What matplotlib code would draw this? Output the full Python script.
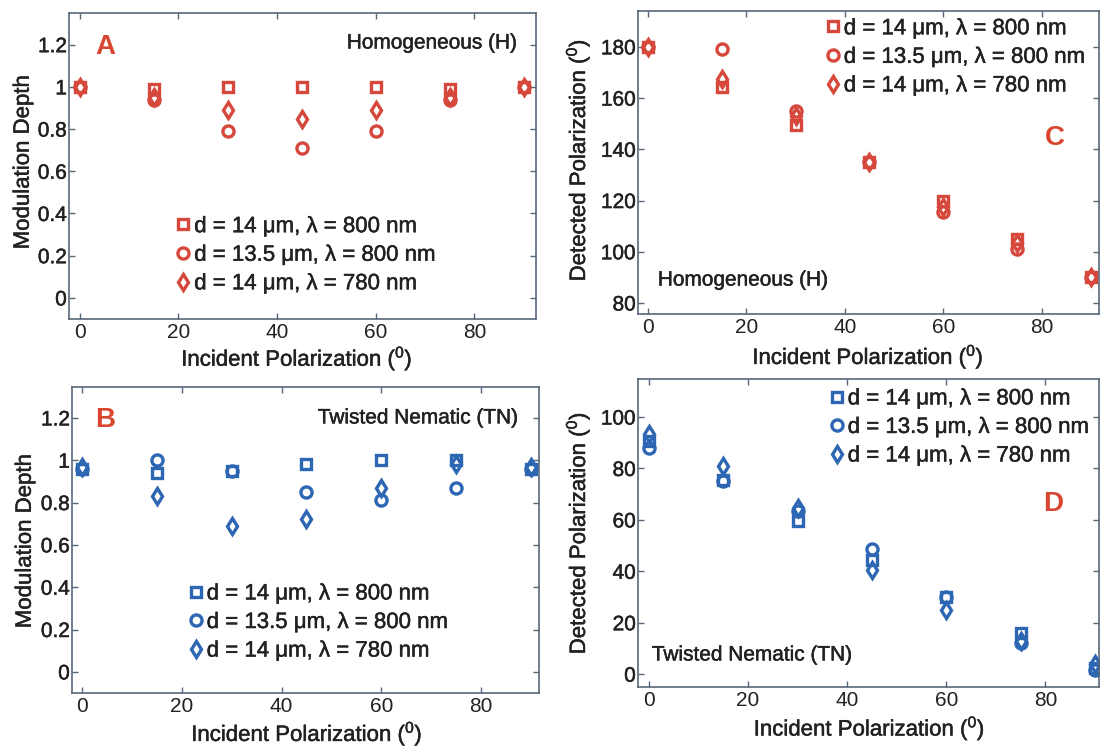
import matplotlib
matplotlib.use("Agg")
import matplotlib.pyplot as plt
import matplotlib.patheffects as pe
from matplotlib.text import Text

plt.rcParams["font.family"] = ["Liberation Sans", "DejaVu Sans"]
plt.rcParams["mathtext.fontset"] = "custom"
plt.rcParams["mathtext.rm"] = "Liberation Sans"
plt.rcParams["mathtext.default"] = "regular"

# ---- data -------------------------------------------------------------
incident = [0, 15, 30, 45, 60, 75, 90]

series_labels = [
    "d = 14 \u03bcm, \u03bb = 800 nm",
    "d = 13.5 \u03bcm, \u03bb = 800 nm",
    "d = 14 \u03bcm, \u03bb = 780 nm",
]

# Modulation depth, homogeneous cell
mod_h_14_800 = [1.00, 0.99, 1.00, 1.00, 1.00, 0.99, 1.00]
mod_h_135_800 = [1.00, 0.94, 0.79, 0.71, 0.79, 0.94, 1.00]
mod_h_14_780 = [1.00, 0.95, 0.89, 0.85, 0.89, 0.95, 1.00]

# Modulation depth, twisted nematic cell
mod_tn_14_800 = [0.96, 0.94, 0.95, 0.98, 1.00, 1.00, 0.96]
mod_tn_135_800 = [0.96, 1.00, 0.95, 0.85, 0.81, 0.87, 0.96]
mod_tn_14_780 = [0.97, 0.83, 0.69, 0.72, 0.87, 0.98, 0.97]

# Detected polarization (deg), homogeneous cell
det_h_14_800 = [180, 164.5, 149.5, 135, 120, 105, 90]
det_h_135_800 = [180, 179, 155, 135, 115.5, 101, 90]
det_h_14_780 = [180, 167.5, 153, 135, 117.5, 103.5, 90]

# Detected polarization (deg), twisted nematic cell
det_tn_14_800 = [90.5, 75.5, 59.5, 44.5, 30, 16, 2.5]
det_tn_135_800 = [88, 75, 63.5, 48.5, 30, 12, 1.5]
det_tn_14_780 = [93.5, 81, 64.5, 40.5, 25, 13, 4]

x_ticks = [0, 20, 40, 60, 80]
mod_ticks = [0, 0.2, 0.4, 0.6, 0.8, 1.0, 1.2]
mod_tick_labels = ["0", "0.2", "0.4", "0.6", "0.8", "1", "1.2"]
det_h_ticks = [80, 100, 120, 140, 160, 180]
det_tn_ticks = [0, 20, 40, 60, 80, 100]

# ---- styling ----------------------------------------------------------
RED = "#d6473c"
BLUE = "#2d66b3"
LETTER_RED = "#d9462f"
FRAME = "#56677a"
TEXT = "#222222"

marker_styles = [
    dict(marker="s", markersize=7.4),
    dict(marker="o", markersize=8.0),
    dict(marker="d", markersize=8.4),
]
MEW = 2.4
LEG_FS = 16

W, H = 1103, 748
fig = plt.figure(figsize=(W / 100, H / 100), dpi=100)
fig.patch.set_facecolor("white")


def px_axes(x0, y0, x1, y1):
    return fig.add_axes([x0 / W, 1 - y1 / H, (x1 - x0) / W, (y1 - y0) / H])


def style_axes(ax):
    for sp in ax.spines.values():
        sp.set_color(FRAME)
        sp.set_linewidth(1.2)
    ax.tick_params(which="both", direction="in", top=True, right=True,
                   length=4, width=1.0, color=FRAME, labelcolor=TEXT,
                   labelsize=15)
    ax.tick_params(axis="y", pad=1.5)
    ax.tick_params(axis="x", pad=3)


def draw_panel(ax, ys, color, xlim, ylim, yticks, yticklabels, ylabel,
               xlab_pos, ylab_pos, leg_anchor):
    handles = []
    for y, st, lab in zip(ys, marker_styles, series_labels):
        ln, = ax.plot(incident, y, linestyle="none", color=color,
                      markerfacecolor="none", markeredgecolor=color,
                      markeredgewidth=MEW, label=lab, **st)
        handles.append(ln)
    ax.set_xlim(*xlim)
    ax.set_ylim(*ylim)
    ax.set_xticks(x_ticks)
    ax.set_yticks(yticks)
    ax.set_yticklabels(yticklabels)
    style_axes(ax)
    ax.set_xlabel("Incident Polarization ($^{0}$)", fontsize=16,
                  color=TEXT, va="center", ha="center")
    ax.set_ylabel(ylabel, fontsize=16, color=TEXT, va="center",
                  ha="center")
    ax.xaxis.set_label_coords(*xlab_pos)
    ax.yaxis.set_label_coords(*ylab_pos)
    ax.legend(handles=handles, loc="upper left", bbox_to_anchor=leg_anchor,
              frameon=False, fontsize=LEG_FS, handlelength=0.8,
              handletextpad=0.1, borderpad=0, borderaxespad=0,
              labelspacing=0.34, numpoints=1, labelcolor=TEXT)


# A: modulation depth, homogeneous
axA = px_axes(69, 13, 536, 319)
draw_panel(axA, [mod_h_14_800, mod_h_135_800, mod_h_14_780], RED,
           (-2.2, 92.5), (-0.1, 1.35), mod_ticks, mod_tick_labels,
           "Modulation Depth", (0.488, -0.13), (-0.098, 0.513),
           (0.2253, 0.336))
axA.text(0.961, 0.902, "Homogeneous (H)", transform=axA.transAxes,
         ha="right", va="center", fontsize=15, color=TEXT)
axA.text(0.0557, 0.889, "A", transform=axA.transAxes, ha="left",
         va="center", fontsize=20, fontweight="bold", color=LETTER_RED)

# B: modulation depth, twisted nematic
axB = px_axes(72, 387, 539, 693)
draw_panel(axB, [mod_tn_14_800, mod_tn_135_800, mod_tn_14_780], BLUE,
           (-2.0, 91.6), (-0.1, 1.346), mod_ticks, mod_tick_labels,
           "Modulation Depth", (0.503, -0.134), (-0.1, 0.497),
           (0.2456, 0.358))
axB.text(0.957, 0.899, "Twisted Nematic (TN)", transform=axB.transAxes,
         ha="right", va="center", fontsize=15, color=TEXT)
axB.text(0.049, 0.892, "B", transform=axB.transAxes, ha="left",
         va="center", fontsize=20, fontweight="bold", color=LETTER_RED)

# C: detected polarization, homogeneous
axC = px_axes(638, 11, 1099, 314)
draw_panel(axC, [det_h_14_800, det_h_135_800, det_h_14_780], RED,
           (-2.0, 91.6), (75.7, 194.0), det_h_ticks,
           [str(t) for t in det_h_ticks],
           "Detected Polarization ($^{0}$)", (0.499, -0.142),
           (-0.13, 0.508), (0.403, 0.976))
axC.text(0.043, 0.112, "Homogeneous (H)", transform=axC.transAxes,
         ha="left", va="center", fontsize=15, color=TEXT)
axC.text(0.883, 0.581, "C", transform=axC.transAxes, ha="left",
         va="center", fontsize=20, fontweight="bold", color=LETTER_RED)

# D: detected polarization, twisted nematic
axD = px_axes(638, 379, 1099, 687)
draw_panel(axD, [det_tn_14_800, det_tn_135_800, det_tn_14_780], BLUE,
           (-2.2, 90.8), (-5.0, 114.8), det_tn_ticks,
           [str(t) for t in det_tn_ticks],
           "Detected Polarization ($^{0}$)", (0.502, -0.135),
           (-0.13, 0.5), (0.4115, 0.9695))
axD.text(0.030, 0.104, "Twisted Nematic (TN)", transform=axD.transAxes,
         ha="left", va="center", fontsize=15, color=TEXT)
axD.text(0.879, 0.594, "D", transform=axD.transAxes, ha="left",
         va="center", fontsize=20, fontweight="bold", color=LETTER_RED)

# Slightly heavier strokes for the regular-weight text
for t in fig.findobj(Text):
    if t.get_text() and t.get_fontweight() not in ("bold", 700):
        t.set_path_effects([pe.withStroke(linewidth=0.35,
                                          foreground=TEXT)])

fig.savefig("out.png", dpi=100, facecolor="white")
